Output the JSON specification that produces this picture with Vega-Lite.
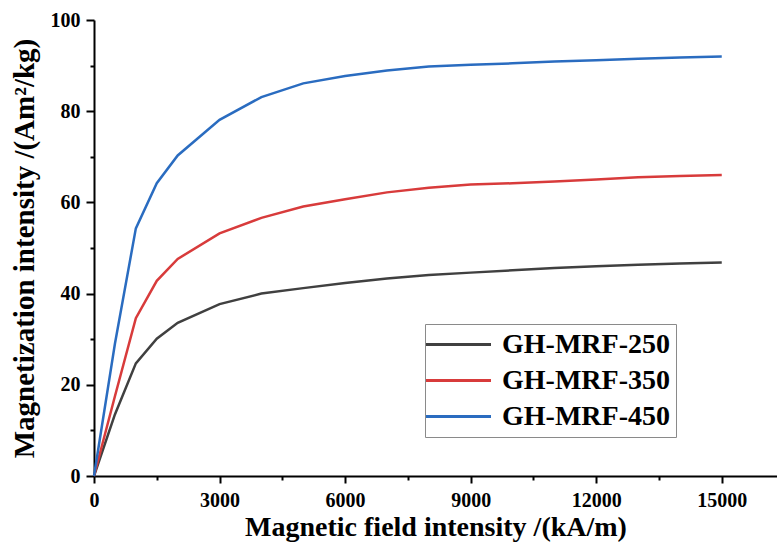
{
  "$schema": "https://vega.github.io/schema/vega-lite/v6.json",
  "autosize": {"type": "none"},
  "width": 683,
  "height": 456,
  "padding": {"left": 94, "top": 20, "right": 0, "bottom": 75},
  "background": "white",
  "config": {
    "view": {"stroke": null},
    "font": "Liberation Serif"
  },
  "datasets": {
    "curves": [
      {"H": 0, "M": 0, "s": "GH-MRF-250"},
      {"H": 500, "M": 13.5, "s": "GH-MRF-250"},
      {"H": 1000, "M": 24.7, "s": "GH-MRF-250"},
      {"H": 1500, "M": 30.1, "s": "GH-MRF-250"},
      {"H": 2000, "M": 33.6, "s": "GH-MRF-250"},
      {"H": 3000, "M": 37.7, "s": "GH-MRF-250"},
      {"H": 4000, "M": 40.0, "s": "GH-MRF-250"},
      {"H": 5000, "M": 41.2, "s": "GH-MRF-250"},
      {"H": 6000, "M": 42.3, "s": "GH-MRF-250"},
      {"H": 7000, "M": 43.3, "s": "GH-MRF-250"},
      {"H": 8000, "M": 44.1, "s": "GH-MRF-250"},
      {"H": 9000, "M": 44.6, "s": "GH-MRF-250"},
      {"H": 10000, "M": 45.1, "s": "GH-MRF-250"},
      {"H": 11000, "M": 45.6, "s": "GH-MRF-250"},
      {"H": 12000, "M": 46.0, "s": "GH-MRF-250"},
      {"H": 13000, "M": 46.3, "s": "GH-MRF-250"},
      {"H": 14000, "M": 46.6, "s": "GH-MRF-250"},
      {"H": 15000, "M": 46.8, "s": "GH-MRF-250"},
      {"H": 0, "M": 0, "s": "GH-MRF-350"},
      {"H": 500, "M": 17.5, "s": "GH-MRF-350"},
      {"H": 1000, "M": 34.6, "s": "GH-MRF-350"},
      {"H": 1500, "M": 42.8, "s": "GH-MRF-350"},
      {"H": 2000, "M": 47.6, "s": "GH-MRF-350"},
      {"H": 3000, "M": 53.2, "s": "GH-MRF-350"},
      {"H": 4000, "M": 56.6, "s": "GH-MRF-350"},
      {"H": 5000, "M": 59.1, "s": "GH-MRF-350"},
      {"H": 6000, "M": 60.7, "s": "GH-MRF-350"},
      {"H": 7000, "M": 62.2, "s": "GH-MRF-350"},
      {"H": 8000, "M": 63.2, "s": "GH-MRF-350"},
      {"H": 9000, "M": 63.9, "s": "GH-MRF-350"},
      {"H": 10000, "M": 64.2, "s": "GH-MRF-350"},
      {"H": 11000, "M": 64.6, "s": "GH-MRF-350"},
      {"H": 12000, "M": 65.0, "s": "GH-MRF-350"},
      {"H": 13000, "M": 65.5, "s": "GH-MRF-350"},
      {"H": 14000, "M": 65.8, "s": "GH-MRF-350"},
      {"H": 15000, "M": 66.0, "s": "GH-MRF-350"},
      {"H": 0, "M": 0, "s": "GH-MRF-450"},
      {"H": 500, "M": 29.0, "s": "GH-MRF-450"},
      {"H": 1000, "M": 54.3, "s": "GH-MRF-450"},
      {"H": 1500, "M": 64.2, "s": "GH-MRF-450"},
      {"H": 2000, "M": 70.3, "s": "GH-MRF-450"},
      {"H": 3000, "M": 78.1, "s": "GH-MRF-450"},
      {"H": 4000, "M": 83.1, "s": "GH-MRF-450"},
      {"H": 5000, "M": 86.1, "s": "GH-MRF-450"},
      {"H": 6000, "M": 87.7, "s": "GH-MRF-450"},
      {"H": 7000, "M": 88.9, "s": "GH-MRF-450"},
      {"H": 8000, "M": 89.8, "s": "GH-MRF-450"},
      {"H": 9000, "M": 90.2, "s": "GH-MRF-450"},
      {"H": 10000, "M": 90.5, "s": "GH-MRF-450"},
      {"H": 11000, "M": 90.9, "s": "GH-MRF-450"},
      {"H": 12000, "M": 91.2, "s": "GH-MRF-450"},
      {"H": 13000, "M": 91.5, "s": "GH-MRF-450"},
      {"H": 14000, "M": 91.8, "s": "GH-MRF-450"},
      {"H": 15000, "M": 92.0, "s": "GH-MRF-450"}
    ]
  },
  "data": {"name": "curves"},
  "layer": [
    {
      "mark": {"type": "line", "strokeWidth": 2.5},
      "encoding": {
        "x": {
          "field": "H",
          "type": "quantitative",
          "scale": {"domain": [0, 16320], "nice": false},
          "axis": {
            "orient": "bottom",
            "values": [0, 3000, 6000, 9000, 12000, 15000],
            "format": "d",
            "grid": false,
            "domainColor": "black",
            "domainWidth": 2,
            "tickColor": "black",
            "tickWidth": 2,
            "tickSize": 7,
            "labelFont": "Liberation Serif",
            "labelFontSize": 20,
            "labelFontWeight": "bold",
            "labelColor": "black",
            "labelPadding": 7,
            "labelFlush": false,
            "labelOverlap": false,
            "labelBound": false,
            "title": "Magnetic field intensity /(kA/m)",
            "titleFont": "Liberation Serif",
            "titleFontSize": 28,
            "titleFontWeight": "bold",
            "titleColor": "black",
            "titlePadding": 3
          }
        },
        "y": {
          "field": "M",
          "type": "quantitative",
          "scale": {"domain": [0, 100], "nice": false},
          "axis": {
            "orient": "left",
            "values": [0, 20, 40, 60, 80, 100],
            "format": "d",
            "grid": false,
            "domainColor": "black",
            "domainWidth": 2,
            "tickColor": "black",
            "tickWidth": 2,
            "tickSize": 8,
            "labelFont": "Liberation Serif",
            "labelFontSize": 20,
            "labelFontWeight": "bold",
            "labelColor": "black",
            "labelPadding": 6,
            "labelFlush": false,
            "labelOverlap": false,
            "labelBound": false,
            "title": "Magnetization intensity /(Am²/kg)",
            "titleFont": "Liberation Serif",
            "titleFontSize": 29,
            "titleFontWeight": "bold",
            "titleColor": "black",
            "titlePadding": 11
          }
        },
        "color": {
          "field": "s",
          "type": "nominal",
          "scale": {
            "domain": ["GH-MRF-250", "GH-MRF-350", "GH-MRF-450"],
            "range": ["#404040", "#d83b3b", "#2a6cc0"]
          },
          "legend": {
            "orient": "none",
            "legendX": 331,
            "legendY": 304,
            "title": null,
            "padding": 6,
            "strokeColor": "#8a8a8a",
            "fillColor": "white",
            "symbolType": "M-1.5,0H3.5",
            "symbolSize": 676,
            "symbolStrokeWidth": 3,
            "labelFont": "Liberation Serif",
            "labelFontSize": 28,
            "labelFontWeight": "bold",
            "labelColor": "black",
            "labelOffset": 42,
            "labelLimit": 0,
            "rowPadding": 7
          }
        }
      }
    },
    {
      "mark": {"type": "line", "opacity": 0},
      "encoding": {
        "x": {
          "field": "H",
          "type": "quantitative",
          "axis": {
            "orient": "bottom",
            "values": [1500, 4500, 7500, 10500, 13500],
            "labels": false,
            "domain": false,
            "grid": false,
            "tickColor": "black",
            "tickWidth": 2,
            "tickSize": 4,
            "title": null
          }
        },
        "y": {
          "field": "M",
          "type": "quantitative",
          "axis": {
            "orient": "left",
            "values": [10, 30, 50, 70, 90],
            "labels": false,
            "domain": false,
            "grid": false,
            "tickColor": "black",
            "tickWidth": 2,
            "tickSize": 4,
            "title": null
          }
        },
        "detail": {"field": "s", "type": "nominal"}
      }
    }
  ],
  "resolve": {"axis": {"x": "independent", "y": "independent"}}
}
